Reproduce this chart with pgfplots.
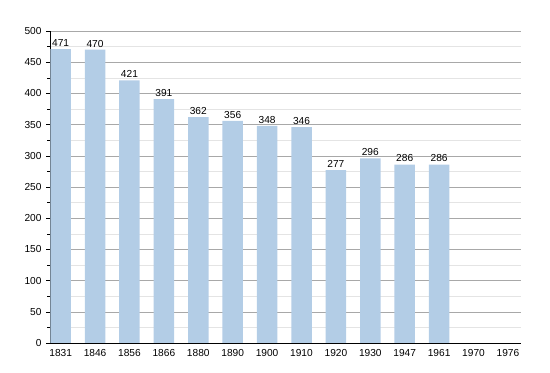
\documentclass[border=0pt]{standalone}
\usepackage{fontspec}
\setmainfont{Liberation Sans}
\usepackage{pgfplots}
\pgfplotsset{compat=1.18}
\definecolor{barblue}{HTML}{B3CDE6}
\definecolor{majgrid}{HTML}{A8A8A8}
\definecolor{mingrid}{HTML}{E4E4E4}
\begin{document}
\begin{tikzpicture}
\useasboundingbox (-50bp,-30bp) rectangle (500bp,343bp);
\begin{axis}[
  at={(0,0)}, anchor=south west,
  scale only axis,
  width=471bp, height=312bp,
  xmin=-0.31, xmax=13.38,
  ymin=0, ymax=500,
  axis lines*=left,
  axis line style={black, line width=0.8pt},
  xtick={0,...,13},
  xticklabels={1831,1846,1856,1866,1880,1890,1900,1910,1920,1930,1947,1961,1970,1976},
  x tick style={draw=none},
  ytick={0,50,...,500},
  minor ytick={25,75,...,475},
  y tick style={black, line width=0.5pt},
  tick align=outside,
  major tick length=4bp,
  minor tick length=3bp,
  ymajorgrids, yminorgrids,
  major grid style={majgrid, line width=0.6pt},
  minor grid style={mingrid, line width=0.6pt},
  tick label style={font=\fontsize{10.2}{12}\selectfont},
  /pgf/number format/assume math mode=true,
  xticklabel style={yshift=1bp},
  yticklabel style={xshift=-1bp},
  ybar, bar width=20.5bp,
  nodes near coords,
  every node near coord/.append style={font=\fontsize{10.2}{12}\selectfont, /pgf/number format/assume math mode=true, yshift=-1bp},
  axis on top=false,
]
\addplot[fill=barblue, draw=none] coordinates {
(0,471) (1,470) (2,421) (3,391) (4,362) (5,356) (6,348) (7,346) (8,277) (9,296) (10,286) (11,286)
};
\end{axis}
\end{tikzpicture}
\end{document}
